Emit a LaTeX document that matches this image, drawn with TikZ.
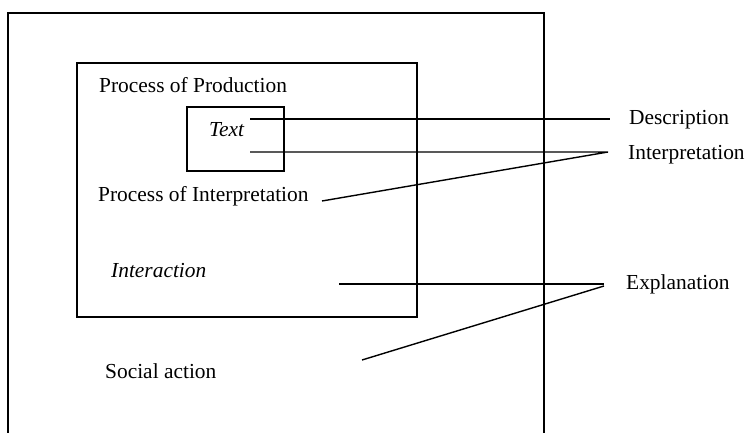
\documentclass[tikz,border=0pt]{standalone}
\usepackage{fontspec}
\setmainfont{Liberation Serif}
\begin{document}
\begin{tikzpicture}[x=1pt,y=-1pt,
  lbl/.style={anchor=base west,inner sep=0pt,font=\fontsize{21.4}{24}\selectfont},
  ilbl/.style={lbl,font=\fontsize{21.4}{24}\selectfont\itshape},
  box/.style={draw,line width=1.4pt},
  conn/.style={line width=1.4pt}]
\useasboundingbox (0,0) rectangle (748,433);
% outer frame (open at the bottom edge)
\draw[box] (8,440) -- (8,13) -- (544,13) -- (544,440);
% middle frame
\draw[box] (77,63) rectangle (417,317);
% text box
\node[box,minimum width=97pt,minimum height=64pt,inner sep=0pt] (textbox) at (235.5,139) {};
% labels
\node[lbl] (prod) at (99,93) {Process of Production};
\node[ilbl] (text) at (209,137) {Text};
\node[lbl] (pint) at (98,202) {Process of Interpretation};
\node[ilbl] (inter) at (111,278) {Interaction};
\node[lbl] (social) at (105,378) {Social action};
\node[lbl] (desc) at (629,125) {Description};
\node[lbl] (interp) at (628,160) {Interpretation};
\node[lbl] (expl) at (626,290) {Explanation};
% connector end points
\coordinate (d1) at (250,119);
\coordinate (d2) at (610,119);
\coordinate (i1) at (250,152);
\coordinate (i2) at (608,152);
\coordinate (i3) at (322,201);
\coordinate (e1) at (339,284);
\coordinate (e2) at (604,284);
\coordinate (e3) at (604,286);
\coordinate (e4) at (362,360);
% connectors
\draw[conn] (d1) -- (d2);
\draw[conn] (i1) -- (i2) -- (i3);
\draw[conn] (e1) -- (e2);
\draw[conn] (e3) -- (e4);
\end{tikzpicture}
\end{document}
